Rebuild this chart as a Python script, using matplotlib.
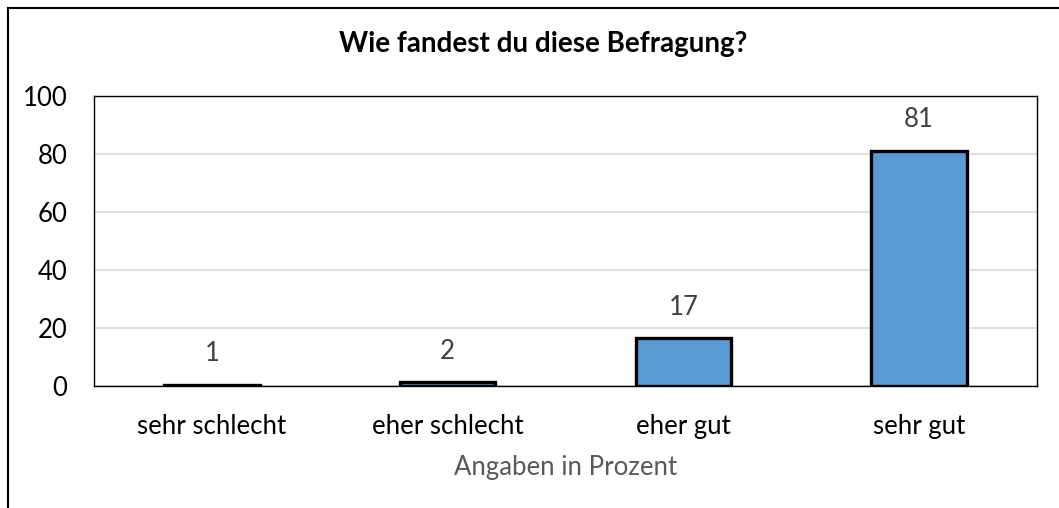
import matplotlib
matplotlib.use("Agg")
import matplotlib.pyplot as plt
from matplotlib.lines import Line2D

categories = ["sehr schlecht", "eher schlecht", "eher gut", "sehr gut"]
values = [0.5, 1.5, 16.5, 81.2]
value_labels = ["1", "2", "17", "81"]
yticks = [0, 20, 40, 60, 80, 100]

plt.rcParams['font.family'] = ['Lato', 'DejaVu Sans']

W, H = 1059, 508
fig = plt.figure(figsize=(W / 100, H / 100), dpi=100)
fig.patch.set_facecolor("white")

ax = fig.add_axes([94 / W, 1 - 386 / H, (1037 - 94) / W, (386 - 96) / H])
x = list(range(len(categories)))
ax.bar(x, values, width=0.405, color="#5B9BD5", edgecolor="black",
       linewidth=2.4, zorder=3)
for xi, v, lab in zip(x, values, value_labels):
    ax.annotate(lab, (xi, v), xytext=(0, 13), textcoords="offset points",
                ha="center", va="bottom", fontsize=18.5, color="#404040")

ax.set_xlim(-0.5, len(categories) - 0.5)
ax.set_ylim(0, 100)
ax.set_yticks(yticks)
ax.set_yticklabels([str(t) for t in yticks])
ax.set_xticks(x)
ax.set_xticklabels(categories)
ax.tick_params(axis="y", length=0, pad=19, labelsize=18.5, colors="black")
ax.tick_params(axis="x", length=0, pad=20, labelsize=18.5, colors="black")
ax.yaxis.grid(True, color="#D9D9D9", linewidth=1.2, zorder=0)
ax.set_axisbelow(True)
for s in ax.spines.values():
    s.set_color("black")
    s.set_linewidth(1.0)

ax.set_xlabel("Angaben in Prozent", fontsize=18.5, color="#595959", labelpad=12)

fig.text(543 / W, 1 - 44 / H, "Wie fandest du diese Befragung?",
         ha="center", va="center", fontsize=20, fontweight="bold", color="black")

fig.add_artist(Line2D([8 / W, 1.0], [1 - 8 / H, 1 - 8 / H],
                      transform=fig.transFigure, color="black", linewidth=1.5))
fig.add_artist(Line2D([8 / W, 8 / W], [1 - 8 / H, 0.0],
                      transform=fig.transFigure, color="black", linewidth=1.5))

fig.savefig("out.png", dpi=100, facecolor="white")
